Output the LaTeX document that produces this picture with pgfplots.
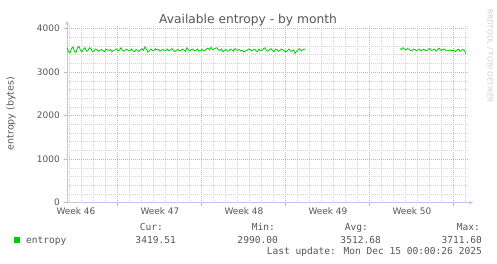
\documentclass[border=0pt]{standalone}
\usepackage{pgfplots}
\pgfplotsset{compat=1.18}
\usetikzlibrary{arrows.meta}
\usepackage{fontspec}
\setmainfont{DejaVu Sans}
\newfontfamily\monofont{DejaVu Sans Mono}
\definecolor{txt}{HTML}{555555}
\definecolor{ent}{HTML}{00CC00}
\definecolor{mgrid}{HTML}{E5A8A8}
\definecolor{ngrid}{HTML}{D2D2D2}
\definecolor{axc}{HTML}{C4C4F0}
\definecolor{wm}{HTML}{CFCFCF}
\begin{document}
\begin{tikzpicture}
\path[use as bounding box] (0,0) rectangle (497bp,264bp);
\begin{axis}[
  at={(67bp,61.3bp)}, anchor=origin,
  scale only axis, width=401bp, height=176.7bp,
  xmin=0, xmax=33.42, ymin=0, ymax=4060,
  axis lines=left,
  axis line style={draw=axc, line width=0.8bp, -{Stealth[length=4bp,width=4bp]}, shorten >=-5bp},
  xtick={4.19,11.19,18.19,25.19,32.19},
  xticklabels={Week 46,Week 47,Week 48,Week 49,Week 50},
  xticklabel style={xshift=-41.3bp},
  minor xtick={0.19,1.19,...,33.19},
  ytick={0,1000,2000,3000,4000},
  minor ytick={200,400,...,3800},
  grid=both,
  major grid style={draw=mgrid, line width=0.6bp, dash pattern=on 1bp off 1bp},
  minor grid style={draw=ngrid, line width=0.6bp, dash pattern=on 1bp off 1bp},
  tick align=outside,
  major tick length=3bp, minor tick length=0bp,
  major tick style={draw=mgrid, line width=0.6bp},
  tick label style={font=\fontsize{9}{10}\selectfont, text=txt},
  /pgf/number format/1000 sep={},
  /pgf/number format/assume math mode=true,
  yticklabel style={inner sep=0pt, xshift=-4bp},
  xticklabel style={inner sep=0pt, yshift=-2bp},
  clip=false,
]
\addplot[ent, line width=0.8bp] coordinates {
(0.00,3560) (0.125,3470) (0.25,3440) (0.375,3540) (0.50,3580) (0.625,3480) (0.75,3450) (0.875,3560)
(1.00,3590) (1.125,3500) (1.25,3470) (1.375,3530) (1.50,3560) (1.625,3480) (1.75,3500) (1.875,3560)
(2.00,3540) (2.125,3470) (2.25,3480) (2.375,3530) (2.50,3520) (2.625,3480) (2.75,3500) (2.875,3520)
(3.00,3490) (3.125,3470) (3.25,3530) (3.375,3510) (3.50,3500) (3.625,3520) (3.75,3470) (3.875,3500)
(4.00,3510) (4.125,3530) (4.25,3490) (4.375,3510) (4.50,3560) (4.625,3500) (4.75,3480) (4.875,3510)
(5.00,3530) (5.125,3490) (5.25,3500) (5.375,3530) (5.50,3490) (5.625,3470) (5.75,3520) (5.875,3500)
(6.00,3470) (6.125,3510) (6.25,3540) (6.375,3500) (6.50,3580) (6.625,3520) (6.75,3460) (6.875,3500)
(7.00,3530) (7.125,3490) (7.25,3500) (7.375,3540) (7.50,3510) (7.625,3520) (7.75,3480) (7.875,3510)
(8.00,3520) (8.125,3490) (8.25,3500) (8.375,3530) (8.50,3490) (8.625,3510) (8.75,3540) (8.875,3500)
(9.00,3470) (9.125,3500) (9.25,3520) (9.375,3490) (9.50,3500) (9.625,3530) (9.75,3510) (9.875,3480)
(10.00,3560) (10.125,3510) (10.25,3490) (10.375,3520) (10.50,3530) (10.625,3490) (10.75,3500) (10.875,3530)
(11.00,3480) (11.125,3500) (11.25,3520) (11.375,3490) (11.50,3500) (11.625,3530) (11.75,3550) (11.875,3510)
(12.00,3570) (12.125,3520) (12.25,3530) (12.375,3550) (12.50,3560) (12.625,3510) (12.75,3500) (12.875,3530)
(13.00,3470) (13.125,3500) (13.25,3520) (13.375,3480) (13.50,3490) (13.625,3530) (13.75,3510) (13.875,3480)
(14.00,3540) (14.125,3510) (14.25,3500) (14.375,3520) (14.50,3480) (14.625,3500) (14.75,3460) (14.875,3490)
(15.00,3500) (15.125,3530) (15.25,3520) (15.375,3490) (15.50,3510) (15.625,3530) (15.75,3490) (15.875,3470)
(16.00,3530) (16.125,3500) (16.25,3500) (16.375,3540) (16.50,3560) (16.625,3500) (16.75,3480) (16.875,3520)
(17.00,3540) (17.125,3500) (17.25,3470) (17.375,3530) (17.50,3520) (17.625,3480) (17.75,3500) (17.875,3530)
(18.00,3510) (18.125,3490) (18.25,3460) (18.375,3500) (18.50,3530) (18.625,3490) (18.75,3480) (18.875,3510)
(19.00,3430) (19.125,3480) (19.25,3510) (19.375,3540) (19.50,3490) (19.625,3510) (19.83,3530)
};
\addplot[ent, line width=0.8bp] coordinates {
(27.75,3540) (27.875,3520) (28.00,3560) (28.125,3530) (28.25,3510) (28.375,3540) (28.50,3530) (28.625,3500)
(28.75,3500) (28.875,3530) (29.00,3520) (29.125,3490) (29.25,3510) (29.375,3530) (29.50,3490) (29.625,3510)
(29.75,3530) (29.875,3490) (30.00,3500) (30.125,3530) (30.25,3540) (30.375,3500) (30.50,3510) (30.625,3530)
(30.75,3480) (30.875,3510) (31.00,3550) (31.125,3510) (31.25,3500) (31.375,3530) (31.50,3520) (31.625,3490)
(31.75,3490) (31.875,3510) (32.00,3500) (32.125,3500) (32.25,3500) (32.375,3470) (32.50,3510) (32.625,3530)
(32.75,3480) (32.875,3500) (33.00,3520) (33.125,3500) (33.25,3420)
};
\end{axis}
% title and labels
\node[anchor=base, text=txt, font=\fontsize{12.3}{14}\selectfont] at (248bp,240bp) {Available entropy - by month};
\node[rotate=90, text=txt, font=\fontsize{9.5}{11}\selectfont] at (11bp,150.5bp) {entropy (bytes)};
\node[rotate=-90, text=wm, font=\fontsize{7.3}{8}\selectfont] at (490bp,208bp) {RRDTOOL / TOBI OETIKER};
% legend
\fill[ent] (14bp,21bp) rectangle (20bp,27bp);
\begin{scope}[every node/.style={inner sep=0pt, text=txt, font=\monofont\fontsize{9.6}{11}\selectfont}]
\node[anchor=base west] at (26bp,20.7bp) {entropy};
\node[anchor=base east] at (163bp,33.3bp) {Cur:};
\node[anchor=base east] at (176bp,20.7bp) {3419.51};
\node[anchor=base east] at (275bp,33.3bp) {Min:};
\node[anchor=base east] at (278bp,20.7bp) {2990.00};
\node[anchor=base east] at (368bp,33.3bp) {Avg:};
\node[anchor=base east] at (381bp,20.7bp) {3512.68};
\node[anchor=base east] at (480bp,33.3bp) {Max:};
\node[anchor=base east] at (482bp,20.7bp) {3711.60};
\node[anchor=base east] at (482bp,10bp) {Last update: Mon Dec 15 00:00:26 2025};
\end{scope}
\end{tikzpicture}
\end{document}
